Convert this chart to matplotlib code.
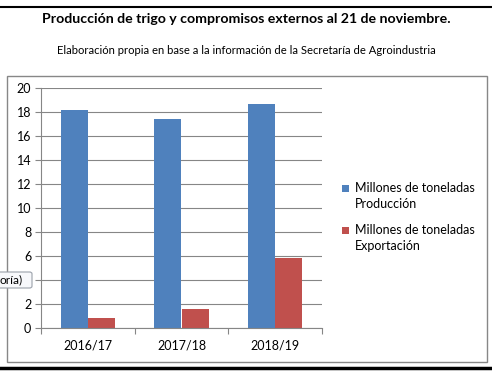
import matplotlib
matplotlib.use("Agg")
import matplotlib.pyplot as plt
from matplotlib.patches import Rectangle, FancyBboxPatch
import numpy as np

plt.rcParams['font.family'] = ['Lato', 'DejaVu Sans']

categories = ["2016/17", "2017/18", "2018/19"]
produccion = [18.2, 17.4, 18.7]
exportacion = [0.85, 1.6, 5.8]
series_labels = ["Millones de toneladas\nProducción", "Millones de toneladas\nExportación"]
colors = ["#4F81BD", "#C0504D"]
yticks = [0, 2, 4, 6, 8, 10, 12, 14, 16, 18, 20]

W, H = 492, 372
fig = plt.figure(figsize=(W/100, H/100), dpi=100)

def fx(px): return px / W
def fy(py): return 1 - py / H

# top and bottom black lines
fig.add_artist(plt.Line2D([0, 1], [fy(7), fy(7)], color="black", lw=1.5, transform=fig.transFigure))
fig.add_artist(plt.Line2D([0, 1], [fy(368), fy(368)], color="black", lw=2.5, transform=fig.transFigure))

# chart border
fig.add_artist(Rectangle((fx(7), fy(362)), fx(487) - fx(7), fy(76) - fy(362),
                         transform=fig.transFigure, fill=False, ec="#878787", lw=1))

fig.text(0.5, fy(19), "Producción de trigo y compromisos externos al 21 de noviembre.",
         ha="center", va="center", fontsize=10.2, fontweight="bold")
fig.text(0.5, fy(50), "Elaboración propia en base a la información de la Secretaría de Agroindustria",
         ha="center", va="center", fontsize=8.1)

ax = fig.add_axes([fx(41), fy(328), fx(322) - fx(41), fy(88) - fy(328)])
x = np.arange(len(categories))
bw = 0.29
ax.bar(x - bw/2, produccion, bw, color=colors[0], label=series_labels[0])
ax.bar(x + bw/2, exportacion, bw, color=colors[1], label=series_labels[1])
ax.set_xlim(-0.5, 2.5)
ax.set_ylim(0, 20)
ax.set_yticks(yticks)
ax.yaxis.grid(True, color="#868686", lw=0.8)
ax.set_axisbelow(True)
for s in ["top", "right"]:
    ax.spines[s].set_visible(False)
ax.spines["left"].set_color("#868686")
ax.spines["bottom"].set_color("#868686")
ax.set_xticks([-0.5, 0.5, 1.5, 2.5], minor=False)
ax.set_xticklabels([])
ax.tick_params(axis="x", length=4, color="#868686", direction="out")
ax.set_xticks(x, minor=True)
ax.set_xticklabels(categories, minor=True)
ax.tick_params(axis="x", which="minor", length=0, pad=8, labelsize=9)
ax.tick_params(axis="y", length=4, color="#868686", labelsize=9, pad=3)

# legend (square aligned with first text line, as in the reference)
for i, (lab, col) in enumerate(zip(series_labels, colors)):
    ytop = 188 + i * 42
    fig.add_artist(Rectangle((fx(342), fy(ytop + 3.5)), fx(7), fy(ytop - 3.5) - fy(ytop + 3.5),
                             transform=fig.transFigure, fc=col, ec="none"))
    for j, line in enumerate(lab.split("\n")):
        fig.text(fx(355), fy(ytop + j * 16), line, ha="left", va="center", fontsize=9)

# tooltip artifact
fig.add_artist(FancyBboxPatch((fx(-4), fy(288)), fx(36), fy(272) - fy(288),
                              boxstyle="round,pad=0,rounding_size=0.005",
                              transform=fig.transFigure, fc="#F7F8FB", ec="#9AA0AA", lw=0.8))
fig.text(fx(0), fy(280), "oría)", ha="left", va="center", fontsize=8.5)

fig.savefig("out.png", dpi=100)
